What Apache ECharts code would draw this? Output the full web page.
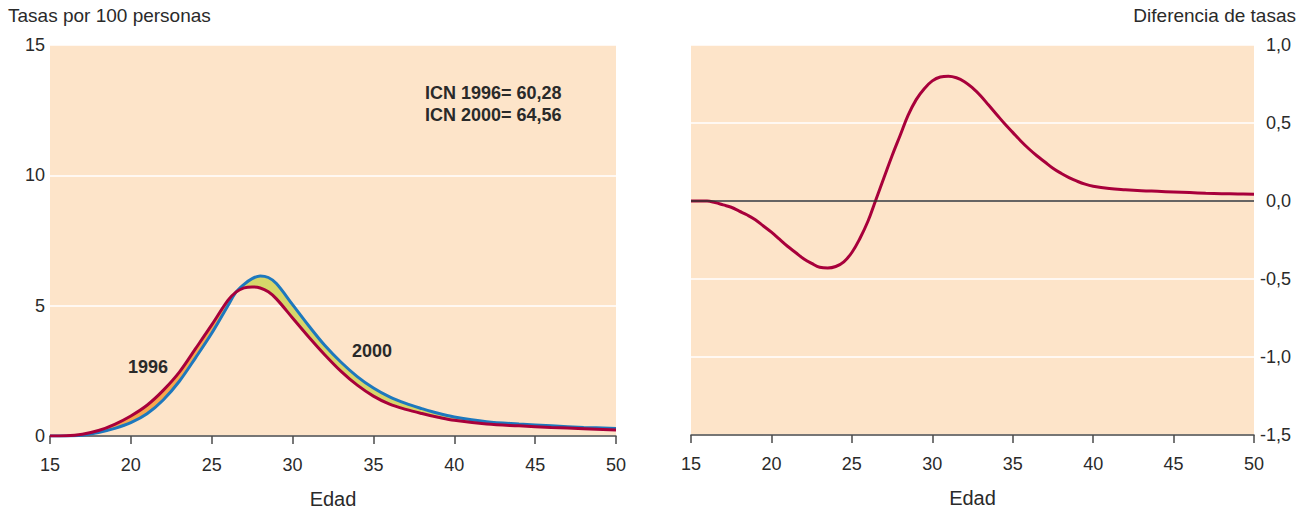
<!DOCTYPE html>
<html>
<head>
<meta charset="utf-8">
<script src="https://cdn.jsdelivr.net/npm/echarts@6/dist/echarts.min.js"></script>
<style>
html,body{margin:0;padding:0;background:#fff;}
#chart{width:1301px;height:511px;}
</style>
</head>
<body>
<div id="chart"></div>
<script>
// ---- data ----
const ages = [15,16,17,18,19,20,21,22,23,24,25,26,26.5,27,27.5,28,28.5,29,30,31,32,33,34,35,36,37,38,39,40,42,44,46,48,50];
const rate1996 = [0.00,0.01,0.07,0.21,0.45,0.77,1.18,1.75,2.45,3.35,4.26,5.20,5.52,5.68,5.72,5.68,5.53,5.26,4.53,3.80,3.11,2.48,1.95,1.53,1.22,1.02,0.86,0.72,0.60,0.46,0.39,0.33,0.28,0.23];
const rate2000 = [0.00,0.00,0.03,0.13,0.29,0.51,0.85,1.38,2.10,3.00,3.94,5.00,5.52,5.82,6.04,6.14,6.08,5.85,5.04,4.23,3.47,2.83,2.28,1.84,1.50,1.25,1.05,0.87,0.73,0.55,0.46,0.39,0.33,0.29];

const diffAges = [15,16,16.5,17,17.5,18,18.5,19,19.5,20,20.5,21,21.5,22,22.5,23,23.5,24,24.5,25,25.5,26,26.5,27,27.5,28,28.5,29,29.5,30,30.5,31,31.5,32,32.5,33,33.5,34,34.5,35,35.5,36,36.5,37,37.5,38,38.5,39,39.5,40,41,42,43,44,45,46,47,48,49,50];
const diffValues = [0,0,-0.01,-0.025,-0.04,-0.065,-0.09,-0.12,-0.16,-0.2,-0.245,-0.29,-0.33,-0.37,-0.4,-0.425,-0.43,-0.42,-0.39,-0.33,-0.24,-0.13,0.01,0.15,0.29,0.42,0.55,0.65,0.72,0.77,0.795,0.8,0.79,0.765,0.725,0.675,0.615,0.555,0.495,0.44,0.385,0.335,0.29,0.25,0.21,0.178,0.15,0.127,0.108,0.095,0.08,0.072,0.066,0.062,0.058,0.054,0.05,0.047,0.045,0.043];

const xTicks = [15,20,25,30,35,40,45,50];
const leftTicks = [0,5,10,15];
const rightTicks = [-1.5,-1.0,-0.5,0.0,0.5,1.0];
const icnTexts = ['ICN 1996= 60,28','ICN 2000= 64,56'];

// ---- styling ----
const FONT = '"Liberation Sans", Arial, sans-serif';
const BG = '#fde4c9';
const RED = '#a8003b';
const BLUE = '#1d78be';
const ORANGE = '#f6a64c';
const GREEN = '#d6d66a';
const AXIS = '#4a4a4a';
const TXT = '#2a2a2a';

// band helpers built from the arrays; stored as [value, age] so the value dimension is stacked
const baseBand = ages.map((a,i)=>[Math.min(rate1996[i], rate2000[i]), a]);
const orangeBand = ages.map((a,i)=>[Math.max(rate1996[i]-rate2000[i], 0), a]);
const greenBand = ages.map((a,i)=>[Math.max(rate2000[i]-rate1996[i], 0), a]);

function xAxisDef(gi){
  return {
    type:'value', gridIndex:gi, min:15, max:50, interval:5,
    name:'Edad', nameLocation:'middle', nameGap:53,
    nameTextStyle:{color:TXT, fontSize:20, fontFamily:FONT},
    axisLine:{show:true, onZero:false, lineStyle:{color:AXIS, width:1.5}},
    axisTick:{show:true, length:8, lineStyle:{color:AXIS, width:1.5}},
    axisLabel:{color:TXT, fontSize:18, fontFamily:FONT, margin:20,
      formatter:v=> xTicks.includes(v) ? String(v) : ''},
    splitLine:{show:false}
  };
}

const bandCommon = {type:'line', xAxisIndex:0, yAxisIndex:0, stack:'band', smooth:0.35,
  symbol:'none', encode:{x:1, y:0}, z:1, silent:true};

const option = {
  animation:false,
  textStyle:{fontFamily:FONT},
  grid:[
    {left:50, top:45, width:566, height:391, show:true, backgroundColor:BG, borderWidth:0,
     containLabel:false, outerBoundsMode:'none'},
    {left:691, top:45, width:563, height:390, show:true, backgroundColor:BG, borderWidth:0,
     containLabel:false, outerBoundsMode:'none'}
  ],
  xAxis:[xAxisDef(0), xAxisDef(1)],
  yAxis:[
    {type:'value', gridIndex:0, min:0, max:15, interval:5, position:'left',
     axisLine:{show:false}, axisTick:{show:false},
     axisLabel:{color:TXT, fontSize:18, fontFamily:FONT, margin:5,
       formatter:v=> leftTicks.includes(v) ? String(v) : ''},
     splitLine:{show:true, lineStyle:{color:'#ffffff', width:1.5}}},
    {type:'value', gridIndex:1, min:-1.5, max:1.0, interval:0.5, position:'right',
     axisLine:{show:false}, axisTick:{show:false},
     axisLabel:{color:TXT, fontSize:18, fontFamily:FONT, margin:37, align:'right',
       formatter:v=> rightTicks.some(t=>Math.abs(t-v)<1e-9) ? v.toFixed(1).replace('.',',') : ''},
     splitLine:{show:true, lineStyle:{color:'#ffffff', width:1.5}}}
  ],
  series:[
    Object.assign({}, bandCommon, {data:baseBand, lineStyle:{width:0, opacity:0}, areaStyle:{opacity:0}}),
    Object.assign({}, bandCommon, {data:orangeBand, lineStyle:{width:0, opacity:0}, areaStyle:{color:ORANGE, opacity:1}}),
    Object.assign({}, bandCommon, {data:greenBand, lineStyle:{width:0, opacity:0}, areaStyle:{color:GREEN, opacity:1}}),
    {name:'2000', type:'line', xAxisIndex:0, yAxisIndex:0, data:ages.map((a,i)=>[a,rate2000[i]]),
     smooth:0.35, symbol:'none', lineStyle:{color:BLUE, width:3}, z:3},
    {name:'1996', type:'line', xAxisIndex:0, yAxisIndex:0, data:ages.map((a,i)=>[a,rate1996[i]]),
     smooth:0.35, symbol:'none', lineStyle:{color:RED, width:3}, z:4},
    {type:'line', xAxisIndex:1, yAxisIndex:1, data:[], z:2, silent:true,
     markLine:{silent:true, symbol:['none','none'], label:{show:false},
       lineStyle:{color:'#333', width:1.5, type:'solid'}, data:[{yAxis:0}]}},
    {name:'Diferencia', type:'line', xAxisIndex:1, yAxisIndex:1, data:diffAges.map((a,i)=>[a,diffValues[i]]),
     smooth:0.4, symbol:'none', lineStyle:{color:RED, width:3}, z:4}
  ],
  graphic:[
    {type:'text', left:8, top:6, z:100, style:{text:'Tasas por 100 personas', fill:TXT, font:'19px '+FONT}},
    {type:'text', right:5, top:6, z:100, style:{text:'Diferencia de tasas', fill:TXT, font:'19px '+FONT}},
    {type:'text', left:425, top:84, z:100, style:{text:icnTexts[0], fill:TXT, font:'bold 18px '+FONT}},
    {type:'text', left:425, top:106, z:100, style:{text:icnTexts[1], fill:TXT, font:'bold 18px '+FONT}},
    {type:'text', left:128, top:358, z:100, style:{text:'1996', fill:TXT, font:'bold 18px '+FONT}},
    {type:'text', left:352, top:342, z:100, style:{text:'2000', fill:TXT, font:'bold 18px '+FONT}}
  ]
};

const chart = echarts.init(document.getElementById('chart'), null, {renderer:'svg'});
chart.setOption(option);
</script>
</body>
</html>
